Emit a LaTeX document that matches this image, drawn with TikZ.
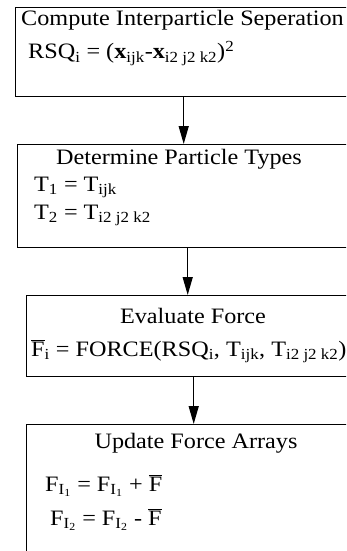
\documentclass[tikz,border=0pt]{standalone}
\usepackage{fontspec}
\setmainfont{Liberation Serif}[FakeStretch=1.1]
\usetikzlibrary{positioning,arrows.meta}
\newcommand{\fbar}{$\overline{\mbox{F}}$}
\tikzset{
  stage/.style={draw,line width=1.4pt,inner sep=0pt,anchor=north west},
  txt/.style={inner sep=0pt,anchor=base west,font=\fontsize{22}{26}\selectfont},
  ttl/.style={txt,anchor=base},
  >={Triangle[length=18pt,width=10pt]},
}

\begin{document}
\begin{tikzpicture}[x=1pt,y=-1pt]
  \useasboundingbox (0,0) rectangle (346,551);
  \clip (0,0) rectangle (346,551);
  % boxes
  \node[stage,minimum width=336pt,minimum height=89pt]  (sep)  at (15,7)   {};
  \node[stage,minimum width=340pt,minimum height=103pt] (type) at (17,144) {};
  \node[stage,minimum width=334pt,minimum height=81pt]  (eval) at (26,295) {};
  \node[stage,minimum width=334pt,minimum height=140pt] (upd)  at (26,424) {};
  % texts
  \node[txt] (sepT) at (21,26) {Compute Interparticle Seperation};
  \node[txt] (sepE) at (28,59) {RSQ\textsubscript{i} = (\textbf{x}\textsubscript{ijk}-\textbf{x}\textsubscript{i2 j2 k2})\textsuperscript{2}};
  \node[ttl] (typeT) at (179,164) {Determine Particle Types};
  \node[txt] (typeA) at (34,191) {T\textsubscript{1} = T\textsubscript{ijk}};
  \node[txt] (typeB) at (34,219) {T\textsubscript{2} = T\textsubscript{i2 j2 k2}};
  \node[ttl] (evalT) at (193,323) {Evaluate Force};
  \node[txt] (evalE) at (31,356) {\fbar\textsubscript{i} = FORCE(RSQ\textsubscript{i}, T\textsubscript{ijk}, T\textsubscript{i2 j2 k2})};
  \node[ttl] (updT) at (196,448) {Update Force Arrays};
  \node[txt] (updA) at (45,491) {F\textsubscript{I\textsubscript{1}} = F\textsubscript{I\textsubscript{1}} + \fbar};
  \node[txt] (updB) at (50,525) {F\textsubscript{I\textsubscript{2}} = F\textsubscript{I\textsubscript{2}} - \fbar};
  % flow
  \draw[->,line width=1.4pt] (sep.south)  -- (sep.south  |- type.north);
  \draw[->,line width=1.4pt] (type.south) -- (type.south |- eval.north);
  \draw[->,line width=1.4pt] (eval.south) -- (eval.south |- upd.north);
\end{tikzpicture}
\end{document}
